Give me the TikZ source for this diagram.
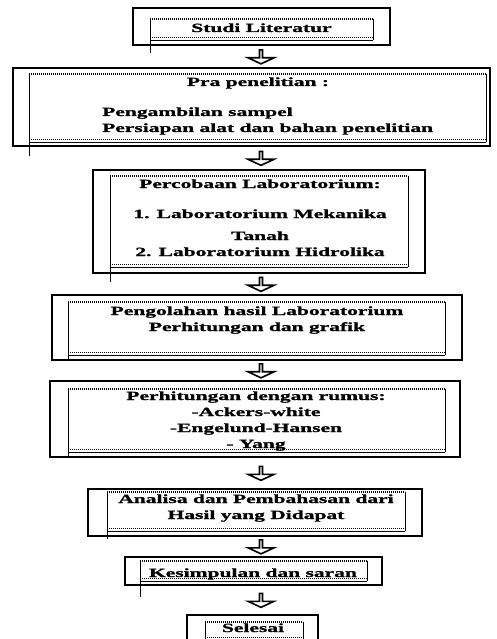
\documentclass[tikz,border=0pt]{standalone}
\usepackage{fontspec}
\setmainfont{Liberation Serif}[FakeStretch=1.72, BoldFeatures={FakeBold=1.2}]
\usepackage{tikz}
\usetikzlibrary{shapes.arrows, calc}

\tikzset{
  kotak/.style={draw, line width=1.6pt, inner sep=0pt, outer sep=0pt},
  teks/.style={inner sep=0pt, font=\fontsize{12.5}{16}\selectfont\bfseries},
  dalam/.style={line width=0.8pt},
  titik/.style={line width=1.1pt, dash pattern=on 1.2pt off 0.8pt},
  panah/.style={draw, line width=1.6pt, single arrow, shape border rotate=270,
    single arrow tip angle=130, single arrow head extend=6pt,
    minimum width=26pt, minimum height=14pt, inner sep=0pt}
}

% bingkai dalam: node, kiri, kanan, atas, bawah, lebih (garis kiri ke bawah)
\newcommand{\bingkai}[6]{%
  \draw[titik] ($(#1.north west)+(#2,-#4)$) -- ($(#1.north east)+(-#3,-#4)$);
  \draw[dalam] ($(#1.north west)+(#2,-#4)$) -- ($(#1.south west)+(#2,-#6)$);
  \draw[dalam] ($(#1.north east)+(-#3,-#4)$) -- ($(#1.south east)+(-#3,#5)$);
  \draw[dalam] ($(#1.south west)+(#2,#5)$) -- ($(#1.south east)+(-#3,#5)$);
  \draw[titik] ($(#1.south west)+(#2,#5+2.5)$) -- ($(#1.south east)+(-#3,#5+2.5)$);
}
\newcommand{\baris}[1]{\begin{tabular}[t]{@{}c@{}}#1\end{tabular}}

\begin{document}
\begin{tikzpicture}[x=1pt, y=1pt]
    \useasboundingbox (0,0) rectangle (496,-639);
    \coordinate (poros) at (261,0);

    % kotak luar
    \node[kotak, minimum width=257, minimum height=37] (studi) at (261.5,-26.5) {};
    \node[kotak, minimum width=477, minimum height=78] (pra) at (251.5,-107) {};
    \node[kotak, minimum width=332, minimum height=103] (percobaan) at (259,-221.5) {};
    \node[kotak, minimum width=410, minimum height=65] (pengolahan) at (257,-327.5) {};
    \node[kotak, minimum width=410, minimum height=76] (perhitungan) at (255,-419) {};
    \node[kotak, minimum width=334, minimum height=47] (analisa) at (255,-512.5) {};
    \node[kotak, minimum width=257, minimum height=28] (kesimpulan) at (253.5,-571) {};
    \node[kotak, minimum width=131, minimum height=30] (selesai) at (252.5,-630) {};

    % bingkai dalam
    \bingkai{studi}{17}{17}{11}{5}{8}
    \bingkai{pra}{16}{4}{6}{4}{10}
    \bingkai{percobaan}{17}{17}{6}{6}{9}
    \bingkai{pengolahan}{16}{17}{7}{5}{0}
    \bingkai{perhitungan}{18}{15}{8}{5}{0}
    \bingkai{analisa}{19}{17}{3}{5}{3}
    \bingkai{kesimpulan}{15}{15}{4}{4}{12}
    \bingkai{selesai}{18}{15}{7}{5}{0}

    % teks
    \node[teks, anchor=base] (tstudi) at (261.5,-32) {Studi Literatur};
    \node[teks, anchor=base] (tpra) at (258,-86) {Pra penelitian :};
    \node[teks, anchor=base west] (tpraisi) at (102,-116)
        {\begin{tabular}[t]{@{}l@{}}Pengambilan sampel\\Persiapan alat dan bahan penelitian\end{tabular}};
    \node[teks, anchor=base] (tpercobaan) at (260,-188)
        {\baris{Percobaan Laboratorium:\\[14pt]1. Laboratorium Mekanika\\[6pt]Tanah\\2. Laboratorium Hidrolika}};
    \node[teks, anchor=base] (tpengolahan) at (257,-315)
        {\baris{Pengolahan hasil Laboratorium\\Perhitungan dan grafik}};
    \node[teks, anchor=base] (tperhitungan) at (256,-400)
        {\baris{Perhitungan dengan rumus:\\-Ackers-white\\-Engelund-Hansen\\- Yang}};
    \node[teks, anchor=base] (tanalisa) at (256,-503)
        {\baris{Analisa dan Pembahasan dari\\Hasil yang Didapat}};
    \node[teks, anchor=base] (tkesimpulan) at (253,-577) {Kesimpulan dan saran};
    \node[teks, anchor=base] (tselesai) at (253,-632) {Selesai};

    % panah antar kotak
    \path (poros |- studi.south) -- (poros |- pra.north) node[midway, panah] (p1) {};
    \path (poros |- pra.south) -- (poros |- percobaan.north) node[midway, panah] (p2) {};
    \path (poros |- percobaan.south) -- (poros |- pengolahan.north) node[midway, panah] (p3) {};
    \path (poros |- pengolahan.south) -- (poros |- perhitungan.north) node[midway, panah] (p4) {};
    \path (poros |- perhitungan.south) -- (poros |- analisa.north) node[midway, panah] (p5) {};
    \path (poros |- analisa.south) -- (poros |- kesimpulan.north) node[midway, panah] (p6) {};
    \path (poros |- kesimpulan.south) -- (poros |- selesai.north) node[midway, panah] (p7) {};
\end{tikzpicture}
\end{document}
